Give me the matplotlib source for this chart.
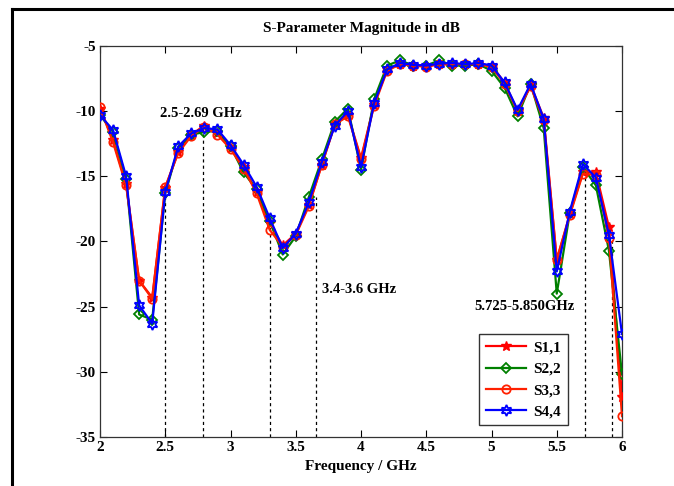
import matplotlib
matplotlib.use("Agg")
import matplotlib.pyplot as plt
from matplotlib.lines import Line2D

freq = [2.0, 2.1, 2.2, 2.3, 2.4, 2.5, 2.6, 2.7, 2.8, 2.9,
        3.0, 3.1, 3.2, 3.3, 3.4, 3.5, 3.6, 3.7, 3.8, 3.9,
        4.0, 4.1, 4.2, 4.3, 4.4, 4.5, 4.6, 4.7, 4.8, 4.9,
        5.0, 5.1, 5.2, 5.3, 5.4, 5.5, 5.6, 5.7, 5.8, 5.9, 6.0]

s11 = [-9.8, -12.2, -15.6, -23.0, -24.3, -15.9, -13.1, -11.8, -11.1, -11.7,
       -12.8, -14.3, -16.2, -18.6, -20.3, -19.4, -17.2, -14.1, -11.0, -10.3,
       -13.6, -9.5, -6.8, -6.4, -6.5, -6.5, -6.4, -6.4, -6.4, -6.4,
       -6.5, -7.8, -10.0, -8.0, -10.5, -21.4, -17.9, -14.7, -14.7, -18.9, -31.9]

s22 = [-10.3, -11.6, -15.2, -25.6, -26.0, -16.3, -12.8, -11.8, -11.6, -11.5,
       -12.7, -14.7, -16.0, -18.4, -21.0, -19.6, -16.6, -13.7, -10.8, -9.8,
       -14.5, -9.1, -6.5, -6.1, -6.5, -6.5, -6.1, -6.5, -6.5, -6.4,
       -6.9, -8.2, -10.4, -7.9, -11.3, -24.0, -17.8, -14.3, -15.7, -20.7, -30.2]

s33 = [-9.7, -12.4, -15.7, -23.0, -24.4, -15.8, -13.2, -11.9, -11.2, -11.8,
       -12.9, -14.4, -16.3, -19.1, -20.4, -19.5, -17.3, -14.1, -11.0, -10.4,
       -13.7, -9.6, -6.9, -6.4, -6.5, -6.6, -6.4, -6.4, -6.4, -6.4,
       -6.6, -7.9, -10.0, -8.1, -10.7, -21.4, -18.0, -14.8, -14.9, -19.7, -33.4]

s44 = [-10.3, -11.45, -15.0, -24.9, -26.3, -16.2, -12.7, -11.7, -11.3, -11.4,
       -12.6, -14.1, -15.8, -18.2, -20.5, -19.4, -17.0, -13.9, -11.1, -10.0,
       -14.3, -9.4, -6.8, -6.3, -6.45, -6.5, -6.35, -6.3, -6.4, -6.3,
       -6.5, -7.8, -9.9, -7.9, -10.6, -22.3, -17.7, -14.05, -15.1, -19.5, -27.1]

# band-edge markers: frequency and the level where each dashed line stops
band_edges = [2.5, 2.79, 3.30, 3.655, 5.72, 5.92]
band_tops = [-16.0, -11.3, -18.3, -16.6, -14.6, -19.9]

band_labels = ["2.5-2.69 GHz", "3.4-3.6 GHz", "5.725-5.850GHz"]
band_label_x = [2.46, 3.70, 4.87]
band_label_y = [-10.2, -23.7, -25.0]

serif = ["Liberation Serif", "DejaVu Serif"]
plt.rcParams["font.family"] = serif
plt.rcParams["font.weight"] = "bold"
plt.rcParams["axes.unicode_minus"] = False

fig = plt.figure(figsize=(6.74, 4.86), dpi=100)
ax = fig.add_axes([100 / 674, 1 - 437 / 486, 522 / 674, 391 / 486])

# outer frame (extends past the right and bottom edges)
fig.add_artist(Line2D([12.5 / 674, 1.0], [1 - 9.5 / 486, 1 - 9.5 / 486],
                      transform=fig.transFigure, color="black", lw=2.2))
fig.add_artist(Line2D([12.5 / 674, 12.5 / 674], [0.0, 1 - 9.5 / 486],
                      transform=fig.transFigure, color="black", lw=2.2))

for xe, yt in zip(band_edges, band_tops):
    ax.plot([xe, xe], [-35, yt], color="black", lw=0.9, ls=(0, (2.5, 2.5)), zorder=1)

lw = 1.6
ax.plot(freq, s11, color="#ff0000", lw=lw, marker="*", ms=7,
        mfc="#ff0000", mec="#ff0000", label="S1,1", zorder=3)
ax.plot(freq, s22, color="#008000", lw=lw, marker="D", ms=5.5,
        mfc="none", mec="#008000", mew=1.3, label="S2,2", zorder=3)
ax.plot(freq, s33, color="#ff2000", lw=lw, marker="o", ms=6,
        mfc="none", mec="#ff2000", mew=1.3, label="S3,3", zorder=3)
ax.plot(freq, s44, color="#0000ff", lw=lw, marker=(6, 1, 0), ms=8,
        mfc="none", mec="#0000ff", mew=1.3, label="S4,4", zorder=4)

for txt, tx, ty in zip(band_labels, band_label_x, band_label_y):
    ax.text(tx, ty, txt, fontsize=10.5, fontweight="bold", ha="left", va="center")

ax.set_xlim(2, 6)
ax.set_ylim(-35, -5)
ax.set_xticks([2, 2.5, 3, 3.5, 4, 4.5, 5, 5.5, 6])
ax.set_xticklabels(["2", "2.5", "3", "3.5", "4", "4.5", "5", "5.5", "6"])
ax.set_yticks([-35, -30, -25, -20, -15, -10, -5])
ax.tick_params(direction="in", top=True, right=True, length=5, width=0.8,
               labelsize=11, pad=3)
for lab in ax.get_xticklabels() + ax.get_yticklabels():
    lab.set_fontweight("bold")
for sp in ax.spines.values():
    sp.set_color("#333333")
    sp.set_linewidth(0.9)

ax.set_title("S-Parameter Magnitude in dB", fontsize=11, fontweight="bold", pad=10)
ax.set_xlabel("Frequency / GHz", fontsize=11, fontweight="bold", labelpad=4)

leg = ax.legend(loc="lower right", bbox_to_anchor=(0.912, 0.01), fontsize=11,
                frameon=True, fancybox=False, edgecolor="black",
                handlelength=2.6, borderpad=0.45, labelspacing=0.5,
                handletextpad=0.5)
leg.get_frame().set_linewidth(1.0)
for t in leg.get_texts():
    t.set_fontweight("bold")

fig.savefig("out.png", dpi=100)
